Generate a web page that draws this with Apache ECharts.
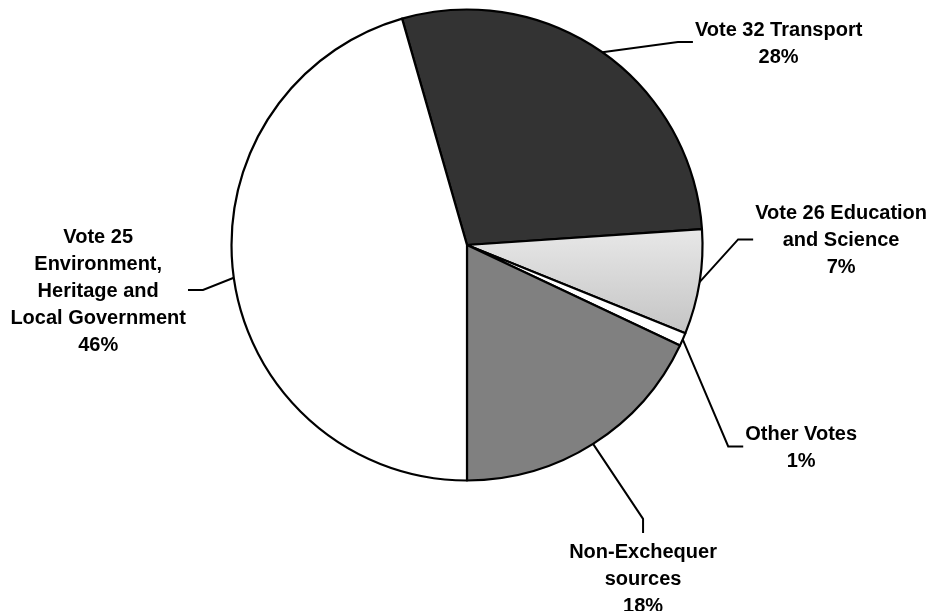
<!DOCTYPE html>
<html>
<head>
<meta charset="utf-8">
<script src="https://cdn.jsdelivr.net/npm/echarts@6/dist/echarts.min.js"></script>
<style>
html,body{margin:0;padding:0;background:#fff;}
#chart{width:932px;height:611px;}
</style>
</head>
<body>
<div id="chart"></div>
<script>
// ---- data ----
const categories = ['Vote 32 Transport', 'Vote 26 Education\nand Science', 'Other Votes', 'Non-Exchequer\nsources', 'Vote 25\nEnvironment,\nHeritage and\nLocal Government'];
const shares = [28.4, 7.2, 0.9, 18.0, 45.6];

// ---- style / layout (not data) ----
const sliceColors = [
  '#333333',
  new echarts.graphic.LinearGradient(0, 0, 0, 1, [
    {offset: 0, color: '#e8e8e8'},
    {offset: 1, color: '#c4c4c4'}
  ]),
  '#ffffff',
  '#808080',
  '#ffffff'
];
// leader line: elbow and end offsets from the slice edge point, label side
const guides = [
  {elbow: [75.6, -10.2], end: [90.6, -10.2], side: 'right'},
  {elbow: [38.6, -42.8], end: [53.6, -42.8], side: 'right'},
  {elbow: [45.5, 107], end: [60.5, 107], side: 'right'},
  {elbow: [50, 75], end: [50, 89], side: 'bottom'},
  {elbow: [-30.8, 12.2], end: [-45.8, 12.2], side: 'left'}
];

const chart = echarts.init(document.getElementById('chart'), null, {renderer: 'canvas'});
const option = {
  animation: false,
  backgroundColor: '#ffffff',
  series: [{
    type: 'pie',
    center: [467, 245],
    radius: 235.5,
    startAngle: 106,
    clockwise: true,
    avoidLabelOverlap: false,
    data: categories.map((c, i) => ({
      name: c,
      value: shares[i],
      itemStyle: {color: sliceColors[i]}
    })),
    itemStyle: {borderColor: '#000', borderWidth: 2.2},
    emphasis: {disabled: true},
    label: {
      show: true,
      position: 'outside',
      formatter: p => p.name + '\n' + Math.round(p.percent) + '%',
      color: '#000',
      fontFamily: 'Liberation Sans, Arial, sans-serif',
      fontWeight: 'bold',
      fontSize: 20,
      lineHeight: 27,
      align: 'center'
    },
    labelLine: {
      show: true,
      length: 20,
      length2: 10,
      lineStyle: {color: '#000', width: 2}
    },
    labelLayout: function (params) {
      const g = guides[params.dataIndex];
      const p0 = params.labelLinePoints[0];
      const p1 = [p0[0] + g.elbow[0], p0[1] + g.elbow[1]];
      const p2 = [p0[0] + g.end[0], p0[1] + g.end[1]];
      const w = params.labelRect.width;
      let out = {labelLinePoints: [p0, p1, p2], align: 'center'};
      if (g.side === 'right') {
        out.x = p2[0] + 2 + w / 2; out.y = p2[1] + 1.5; out.verticalAlign = 'middle';
      } else if (g.side === 'left') {
        out.x = p2[0] - 2 - w / 2; out.y = p2[1] + 2; out.verticalAlign = 'middle';
      } else {
        out.x = p2[0]; out.y = p2[1] + 6; out.verticalAlign = 'top';
      }
      return out;
    }
  }]
};
chart.setOption(option);
</script>
</body>
</html>
